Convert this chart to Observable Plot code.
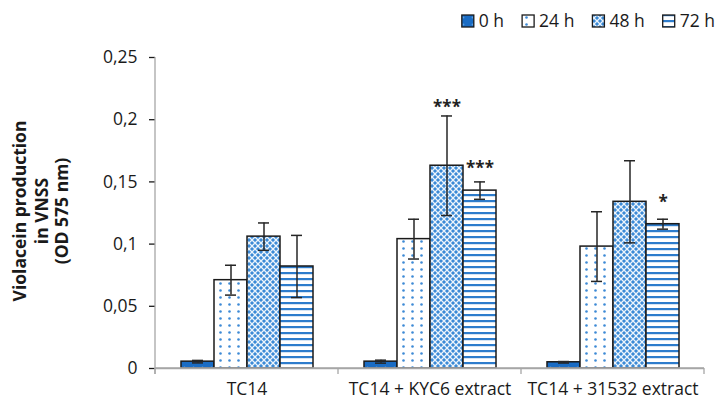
<!DOCTYPE html>
<html>
<head>
<meta charset="utf-8">
<script src="https://cdn.jsdelivr.net/npm/d3@7"></script>
<script src="https://cdn.jsdelivr.net/npm/@observablehq/plot@0.6"></script>
<style>
  html, body { margin: 0; padding: 0; background: #fff; }
  #chart { position: relative; width: 721px; height: 401px; }
  svg { display: block; }
</style>
</head>
<body>
<div id="chart"></div>
<script>
// ---- data ----
const categories = ["TC14", "TC14 + KYC6 extract", "TC14 + 31532 extract"];
const times = ["0 h", "24 h", "48 h", "72 h"];

const mean0h  = [0.0055, 0.0055, 0.005];
const mean24h = [0.071, 0.104, 0.098];
const mean48h = [0.106, 0.163, 0.134];
const mean72h = [0.082, 0.143, 0.116];

const err0h  = [0.001, 0.0012, 0.0006];
const err24h = [0.012, 0.016, 0.028];
const err48h = [0.011, 0.040, 0.033];
const err72h = [0.025, 0.007, 0.004];

const yTicks = [0, 0.05, 0.1, 0.15, 0.2, 0.25];
const yTitle = ["Violacein production", "in VNSS", "(OD 575 nm)"];

const starCategory = ["TC14 + KYC6 extract", "TC14 + KYC6 extract", "TC14 + 31532 extract"];
const starTime     = ["48 h", "72 h", "72 h"];
const starLabel    = ["***", "***", "*"];
const starY        = [0.213, 0.164, 0.137];

// ---- build table ----
const meansByTime = [mean0h, mean24h, mean48h, mean72h];
const errsByTime = [err0h, err24h, err48h, err72h];
const rows = [];
categories.forEach((c, ci) => {
  times.forEach((t, ti) => {
    const v = meansByTime[ti][ci], e = errsByTime[ti][ci];
    rows.push({category: c, time: t, value: v, lo: v - e, hi: v + e});
  });
});
const stars = starLabel.map((s, i) => ({category: starCategory[i], time: starTime[i], label: s, y: starY[i]}));

const patternIds = ["pat0", "pat24", "pat48", "pat72"];
const FONT = "'Open Sans', sans-serif";

const plot = Plot.plot({
  width: 721,
  height: 401,
  marginLeft: 155,
  marginRight: 17,
  marginTop: 57,
  marginBottom: 33,
  style: {fontFamily: FONT, fontSize: "17.5px", color: "#1a1a1a", background: "#fff"},
  fx: {domain: categories, paddingInner: 0, paddingOuter: 0, axis: "bottom", tickSize: 0, tickPadding: 14, label: null},
  x: {domain: times, paddingInner: 0, paddingOuter: 0.752, axis: null},
  y: {domain: [0, 0.25], axis: "left", ticks: yTicks, tickFormat: d => String(d).replace(".", ","), tickSize: 6, tickPadding: 12, label: null},
  color: {domain: times, range: patternIds.map(id => `url(#${id})`)},
  marks: [
    Plot.barY(rows, {fx: "category", x: "time", y: "value", fill: "time", stroke: "#1a1a1a", strokeWidth: 1.5}),
    Plot.ruleY([0], {stroke: "#a6a6a6", strokeWidth: 1.3}),
    Plot.ruleX(rows, {fx: "category", x: "time", y1: "lo", y2: "hi", stroke: "#262626", strokeWidth: 1.5}),
    Plot.tickY(rows, {fx: "category", x: "time", y: "lo", stroke: "#262626", strokeWidth: 1.5, insetLeft: 11, insetRight: 11}),
    Plot.tickY(rows, {fx: "category", x: "time", y: "hi", stroke: "#262626", strokeWidth: 1.5, insetLeft: 11, insetRight: 11}),
    Plot.text(stars, {fx: "category", x: "time", y: "y", text: "label", fontSize: 17, fontWeight: "bold", fill: "#222", dy: 4})
  ]
});

document.getElementById("chart").appendChild(plot);

// ---- patterns ----
const svg = d3.select(plot);
const defs = svg.insert("defs", ":first-child");

const p0 = defs.append("pattern").attr("id", "pat0").attr("patternUnits", "userSpaceOnUse").attr("width", 9).attr("height", 7);
p0.append("rect").attr("width", 9).attr("height", 7).attr("fill", "#1a6cc4");
p0.append("circle").attr("cx", 4.5).attr("cy", 3.5).attr("r", 0.9).attr("fill", "#5a9ee0");

const p24 = defs.append("pattern").attr("id", "pat24").attr("patternUnits", "userSpaceOnUse").attr("width", 9).attr("height", 7);
p24.append("rect").attr("width", 9).attr("height", 7).attr("fill", "#ffffff");
p24.append("circle").attr("cx", 4.5).attr("cy", 3.5).attr("r", 1.3).attr("fill", "#3d8ad6");

const p48 = defs.append("pattern").attr("id", "pat48").attr("patternUnits", "userSpaceOnUse").attr("width", 6).attr("height", 6);
p48.append("rect").attr("width", 6).attr("height", 6).attr("fill", "#3b8ad6");
p48.append("path").attr("d", "M0,0L6,6M6,0L0,6").attr("stroke", "#ffffff").attr("stroke-width", 1.3).attr("stroke-opacity", 0.9);

const p72 = defs.append("pattern").attr("id", "pat72").attr("patternUnits", "userSpaceOnUse").attr("width", 6).attr("height", 6);
p72.append("rect").attr("width", 6).attr("height", 6).attr("fill", "#ffffff");
p72.append("rect").attr("y", 2).attr("width", 6).attr("height", 2.2).attr("fill", "#2d7ccc");

// ---- axis lines from the scales ----
const fx = plot.scale("fx");
const y = plot.scale("y");
const xStart = fx.apply(categories[0]);
const xEnd = fx.apply(categories[categories.length - 1]) + fx.bandwidth;
const y0 = y.apply(0);
const yTop = y.apply(0.25);
const axisG = svg.append("g").attr("stroke", "#a6a6a6").attr("stroke-width", 1.3);
axisG.append("line").attr("x1", xStart).attr("x2", xStart).attr("y1", yTop).attr("y2", y0 + 6);
axisG.append("line").attr("x1", xStart).attr("x2", xEnd).attr("y1", y0).attr("y2", y0);
const bounds = categories.map(c => fx.apply(c)).concat([xEnd]);
bounds.forEach(b => axisG.append("line").attr("x1", b).attr("x2", b).attr("y1", y0).attr("y2", y0 + 6));
svg.selectAll('[aria-label="y-axis tick"]').attr("stroke", "#a6a6a6").attr("stroke-width", 1.3);

// ---- y title ----
const tt = svg.append("text")
  .attr("transform", `translate(0, 211) rotate(-90)`)
  .attr("text-anchor", "middle")
  .attr("font-family", FONT).attr("font-size", "17.5px").attr("font-weight", "bold").attr("fill", "#1a1a1a");
const baselines = [26, 48, 68];
yTitle.forEach((line, i) => tt.append("tspan").attr("x", 0).attr("y", baselines[i]).text(line));

// ---- legend ----
const lg = svg.append("g").attr("font-family", FONT).attr("font-size", "17.5px").attr("fill", "#1a1a1a").attr("text-anchor", "start");
let cursor = 715;
for (let i = times.length - 1; i >= 0; i--) {
  const g = lg.append("g");
  const t = g.append("text").attr("text-anchor", "start").attr("y", 21).attr("dy", "0.35em").text(times[i]);
  const w = t.node().getComputedTextLength();
  const tx = cursor - w;
  t.attr("x", tx);
  g.append("rect").attr("x", tx - 5 - 12).attr("y", 15).attr("width", 12).attr("height", 12)
    .attr("fill", `url(#${patternIds[i]})`).attr("stroke", "#1a1a1a").attr("stroke-width", 1.3);
  cursor = tx - 5 - 12 - 18;
}
</script>
</body>
</html>
